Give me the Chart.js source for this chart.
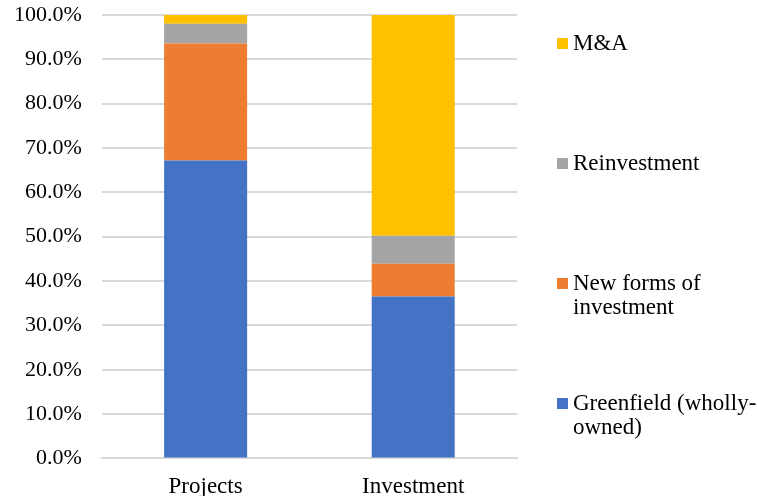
<!DOCTYPE html>
<html>
<head>
<meta charset="utf-8">
<script src="https://cdn.jsdelivr.net/npm/chart.js@4/dist/chart.umd.min.js"></script>
<style>
  html, body {
    margin: 0;
    padding: 0;
    background: white;
  }
  .wrap {
    position: relative;
    width: 757px;
    height: 496px;
  }
  #legend {
    position: absolute;
    left: 557px;
    top: 0;
    font-family: "Liberation Serif", "Times New Roman", serif;
    font-size: 23px;
    color: #000;
  }
  .item {
    position: absolute;
    left: 0;
    width: 200px;
    line-height: 24px;
  }
  .item .box {
    position: absolute;
    left: 0;
    top: 7px;
    width: 11px;
    height: 11px;
  }
  .item .txt {
    margin-left: 16px;
    white-space: nowrap;
  }
</style>
</head>
<body>
<div class="wrap">
  <canvas id="chart" width="757" height="496"></canvas>
  <div id="legend"></div>
</div>
<script>
'use strict';

const categories = ['Projects', 'Investment'];
const seriesNames = ['Greenfield (wholly-owned)', 'New forms of investment', 'Reinvestment', 'M&A'];
const legendLines = [['Greenfield (wholly-', 'owned)'], ['New forms of', 'investment'], ['Reinvestment'], ['M&A']];
const greenfield = [67.2, 36.5];
const newForms = [26.4, 7.4];
const reinvestment = [4.4, 6.3];
const mna = [2.0, 49.8];
const colors = ['#4472C4', '#ED7D31', '#A5A5A5', '#FFC000'];

const font = '"Liberation Serif", "Times New Roman", serif';
const values = [greenfield, newForms, reinvestment, mna];

const datasets = seriesNames.map((name, i) => ({
  label: name,
  data: values[i],
  backgroundColor: colors[i],
  borderWidth: 0,
  barPercentage: 0.4,
  categoryPercentage: 1.0
}));

new Chart(document.getElementById('chart').getContext('2d'), {
  type: 'bar',
  data: { labels: categories, datasets: datasets },
  options: {
    responsive: false,
    animation: false,
    layout: { autoPadding: false, padding: { top: 15, right: 240, left: -6, bottom: -20 } },
    plugins: {
      legend: { display: false },
      tooltip: { enabled: false }
    },
    scales: {
      x: {
        stacked: true,
        grid: { display: false, drawTicks: false },
        border: { display: true, color: '#d9d9d9', width: 2 },
        ticks: { color: '#000', padding: 15, font: { family: font, size: 23 } }
      },
      y: {
        stacked: true,
        min: 0,
        max: 100,
        grid: { color: '#d9d9d9', lineWidth: 2, drawTicks: false },
        border: { display: false },
        ticks: {
          stepSize: 10,
          color: '#000',
          padding: 20,
          font: { family: font, size: 22 },
          callback: (v) => v.toFixed(1) + '%'
        },
        // tick padding would otherwise push the plot down from the top
        afterFit: (scale) => {
          scale.paddingTop = 0;
          scale.paddingBottom = 0;
        }
      }
    }
  }
});

// legend on the right, top item is the last series
const legend = document.getElementById('legend');
const order = [3, 2, 1, 0];
order.forEach((idx, pos) => {
  const item = document.createElement('div');
  item.className = 'item';
  item.style.top = (31 + pos * 120) + 'px';
  const box = document.createElement('div');
  box.className = 'box';
  box.style.background = colors[idx];
  item.appendChild(box);
  const txt = document.createElement('div');
  txt.className = 'txt';
  txt.innerHTML = legendLines[idx].join('<br>');
  item.appendChild(txt);
  legend.appendChild(item);
});
</script>
</body>
</html>
